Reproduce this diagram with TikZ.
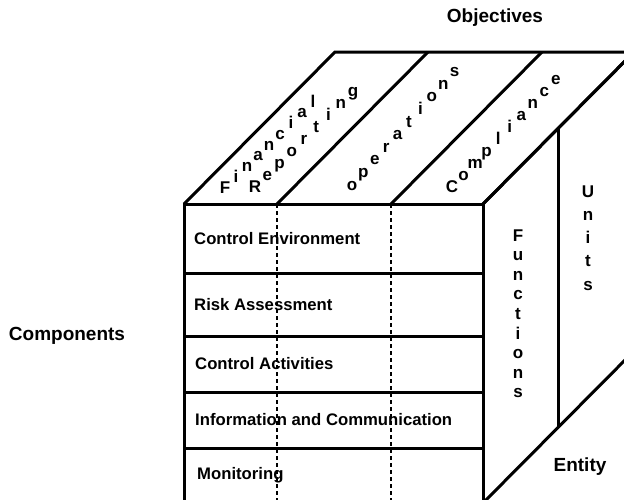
\documentclass[tikz,border=0pt]{standalone}
\usepackage{fontspec}
\setmainfont{Liberation Sans}
\tikzstyle{edge} = [line width=3pt]
\tikzstyle{split} = [line width=2.2pt]
\tikzstyle{guide} = [dash pattern=on 4pt off 3pt, line width=1.2pt]
\tikzstyle{title} = [font=\fontsize{19}{22}\selectfont\bfseries, inner sep=0pt]
\tikzstyle{component} = [font=\fontsize{16.7}{20}\selectfont\bfseries, anchor=west, inner sep=0pt]
\tikzstyle{letter} = [font=\fontsize{17}{20}\selectfont\bfseries, anchor=base, inner sep=0pt]

\begin{document}
\begin{tikzpicture}[x=1pt, y=-1pt]
		\useasboundingbox (0,0) rectangle (624,499);
		\clip (0,0) rectangle (624,499);
		\coordinate (ftl) at (184,204);
		\coordinate (ftr) at (483,204);
		\coordinate (fbl) at (184,503);
		\coordinate (fbr) at (483,503);
		\coordinate (btl) at (335,52);
		\coordinate (btr) at (634,52);
		\coordinate (bbr) at (634,351);
		
		\draw [guide](277,204) -- (277,503);
		\draw [guide](391,204) -- (391,503);
		\draw [edge](ftl) rectangle (fbr);
		\foreach \y in {273,336,392,448}
			\draw [edge](184,\y) -- (483,\y);
		\draw [edge](ftl) -- (btl) -- (btr) -- (ftr);
		\draw [edge](277,204) -- (428,52);
		\draw [edge](391,204) -- (542,52);
		\draw [edge](ftr) -- (btr) -- (bbr) -- (fbr);
		\draw [split](558.5,128) -- (558.5,427.5);
		
		\node (objectives) [title] at (495,18) {Objectives};
		\node (components) [title] at (67,336) {Components};
		\node (entity) [title] at (580,467) {Entity};
		
		\node (env) [component] at (194,238.5) {Control Environment};
		\node (risk) [component] at (194,304.5) {Risk Assessment};
		\node (act) [component] at (195,364) {Control Activities};
		\node (info) [component] at (195,420) {Information and Communication};
		\node (mon) [component] at (197,475.5) {Monitoring};
		
		\foreach \ch [count=\k from 0] in {F,i,n,a,n,c,i,a,l}
			\node (fin\k) [letter] at (225+11*\k,193-10.75*\k) {\ch};
		\foreach \ch [count=\k from 0] in {R,e,p,o,r,t,i,n,g}
			\node (rep\k) [letter] at (255+12.25*\k,192-11.9*\k) {\ch};
		\foreach \ch [count=\k from 0] in {o,p,e,r,a,t,i,o,n,s}
			\node (ops\k) [letter] at (352+11.4*\k,190-12.6*\k) {\ch};
		\foreach \ch [count=\k from 0] in {C,o,m,p,l,i,a,n,c,e}
			\node (comp\k) [letter] at (452+11.55*\k,192-11.9*\k) {\ch};
		\foreach \ch [count=\k from 0] in {F,u,n,c,t,i,o,n,s}
			\node (func\k) [letter] at (518,241+19.6*\k) {\ch};
		\foreach \ch [count=\k from 0] in {U,n,i,t,s}
			\node (unit\k) [letter] at (588,197+23.25*\k) {\ch};
	\end{tikzpicture}
\end{document}
